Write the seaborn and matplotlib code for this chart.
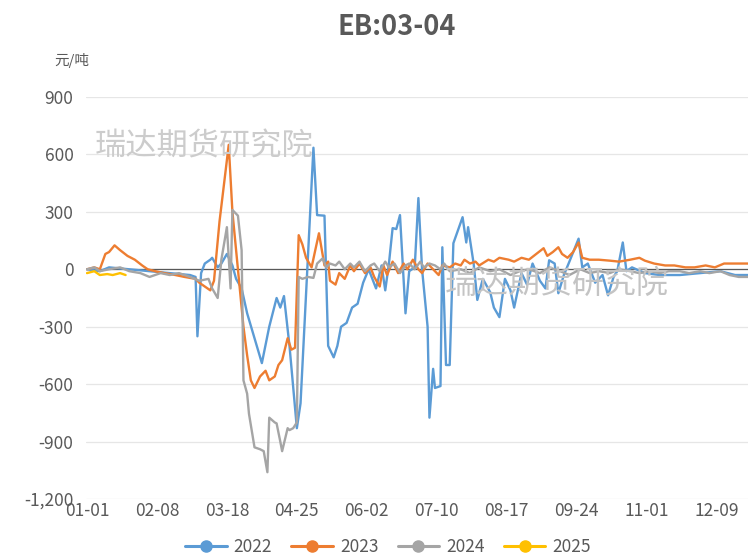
"""EB 03-04 spread, seasonal chart."""

import matplotlib
matplotlib.use("Agg")
import matplotlib.pyplot as plt
from matplotlib.lines import Line2D
from matplotlib.ticker import FuncFormatter
import seaborn as sns
import pandas as pd

# day offsets from 01-01 and spread values (yuan/ton)
days_2022 = [0, 7, 12, 23, 34, 45, 56, 59, 60, 62, 64, 67, 68, 71, 73, 76, 79, 81, 84, 87,
             95, 99, 103, 105, 107, 110, 114, 116, 123, 125, 129, 131, 134, 136, 138, 141,
             144, 147, 150, 153, 155, 157, 160, 162, 164, 166, 168, 170, 173, 175, 178, 180,
             182, 185, 186, 188, 189, 192, 193, 195, 197, 199, 204, 206, 207, 210, 212, 215,
             219, 221, 224, 227, 230, 232, 236, 239, 242, 246, 249, 251, 254, 256, 259, 262,
             267, 269, 272, 276, 280, 283, 286, 288, 291, 293, 296, 303, 311, 322, 333, 344,
             352, 359]
vals_2022 = [0, -10, 10, 0, -10, -20, -30, -40, -350, -20, 30, 50, 60, 10, 30, 80, 20, -50,
             -100, -230, -490, -300, -150, -200, -140, -400, -830, -700, 635, 283, 280, -400,
             -460, -400, -300, -280, -200, -180, -70, 0, -50, -100, 20, -110, 30, 215, 210,
             283, -230, -10, 10, 372, 0, -300, -775, -520, -620, -610, 115, -500, -500, 136,
             272, 140, 220, 30, -160, -50, -120, -200, -250, -50, -110, -200, -20, -80, 30,
             -60, -100, 47, 30, -125, -30, 40, 160, 10, 30, -70, -30, -136, -40, -10, 140,
             -10, 10, -20, -30, -30, -20, -10, -30, -30]

days_2023 = [0, 4, 7, 10, 12, 15, 18, 22, 26, 30, 33, 37, 42, 48, 53, 59, 61, 64, 67, 69,
             72, 77, 79, 82, 85, 87, 89, 91, 94, 97, 99, 102, 104, 106, 109, 111, 113, 115,
             117, 119, 122, 124, 126, 129, 131, 132, 135, 137, 140, 143, 145, 148, 151, 154,
             156, 159, 161, 163, 166, 169, 172, 174, 177, 180, 182, 185, 188, 191, 193, 197,
             200, 203, 205, 208, 211, 213, 218, 221, 224, 229, 232, 236, 240, 244, 248, 250,
             253, 256, 258, 261, 264, 267, 269, 273, 278, 284, 289, 295, 300, 303, 308, 314,
             319, 325, 330, 336, 341, 346, 352, 359]
vals_2023 = [0, 10, 0, 80, 90, 125, 100, 70, 50, 20, 0, -10, -20, -30, -40, -50, -70, -90,
             -110, -60, 250, 650, 300, 0, -300, -450, -580, -620, -560, -530, -580, -560,
             -500, -475, -360, -420, -410, 178, 130, 60, 10, 100, 188, 20, 40, -60, -80, -20,
             -50, 20, -10, 30, -20, 10, -40, -90, 20, -30, 40, -20, 30, 0, 50, 0, -20, 30, 0,
             -30, 20, 10, 30, 20, 50, 30, 40, 20, 50, 40, 60, 50, 40, 60, 50, 80, 110, 70,
             90, 115, 80, 60, 90, 140, 60, 50, 50, 45, 40, 50, 60, 45, 30, 20, 20, 10, 10,
             20, 10, 30, 30, 30]

days_2024 = [0, 4, 7, 12, 18, 23, 29, 34, 40, 45, 50, 56, 61, 66, 68, 71, 73, 76, 78, 79,
             82, 84, 85, 87, 88, 91, 94, 96, 98, 99, 102, 103, 105, 106, 109, 110, 112, 114,
             115, 117, 120, 123, 125, 128, 130, 132, 135, 137, 140, 143, 145, 148, 151, 154,
             156, 159, 162, 164, 167, 170, 173, 175, 178, 181, 183, 186, 189, 192, 194, 197,
             203, 208, 213, 219, 224, 230, 235, 240, 246, 251, 257, 262, 268, 273, 278, 284,
             289, 295, 300, 306, 311, 316, 322, 327, 333, 338, 344, 349, 354, 359]
vals_2024 = [0, 10, -10, 0, 10, -10, -20, -40, -20, -30, -20, -40, -60, -50, -100, -150, 50,
             220, -100, 310, 280, 100, -580, -650, -755, -930, -940, -950, -1060, -775, -800,
             -805, -900, -950, -830, -840, -830, -800, -40, -50, -40, -45, 30, 57, 10, 30, 20,
             40, 0, 30, 10, 40, -10, 20, 30, -10, 40, 10, 30, -20, 20, 30, 0, 40, 10, 30, 20,
             0, 30, -10, 0, -20, 10, -10, 0, -30, -10, 0, -20, 10, -10, -30, 0, -20, -10, -20,
             0, -10, -20, -10, -20, -10, -10, -20, -10, -20, -10, -30, -40, -40]

days_2025 = [0, 4, 7, 11, 14, 18, 21]
vals_2025 = [-20, -10, -30, -25, -30, -20, -30]

years = ["2022", "2023", "2024", "2025"]
colors = ["#5B9BD5", "#ED7D31", "#A5A5A5", "#FFC000"]

tick_days = [0, 38, 76, 114, 152, 190, 228, 266, 304, 342]
tick_labels = ["01-01", "02-08", "03-18", "04-25", "06-02",
               "07-10", "08-17", "09-24", "11-01", "12-09"]
y_ticks = [900, 600, 300, 0, -300, -600, -900, -1200]

frames = []
for yr, d, v in zip(years, [days_2022, days_2023, days_2024, days_2025],
                    [vals_2022, vals_2023, vals_2024, vals_2025]):
    frames.append(pd.DataFrame({"day": d, "value": v, "year": yr}))
df = pd.concat(frames, ignore_index=True)

sns.set_theme(style="white")
plt.rcParams["font.family"] = ["Noto Sans CJK SC", "DejaVu Sans"]
plt.rcParams["axes.unicode_minus"] = False

fig = plt.figure(figsize=(7.48, 5.58), dpi=100)
ax = fig.add_axes([0.115, 0.1057, 0.885, 0.7205])

for y in y_ticks:
    ax.axhline(y, color="#e6e6e6", linewidth=0.9, zorder=0)
ax.axhline(0, color="#595959", linewidth=0.9, zorder=1)

# watermarks
fig.text(95 / 748, 1 - 147 / 558, "瑞达期货研究院", fontsize=22.5, color="#cccccc",
         va="center", ha="left", zorder=0)
fig.text(445 / 748, 1 - 284 / 558, "瑞达期货研究院", fontsize=23, color="#c4c4c4",
         va="center", ha="left", zorder=0)

sns.lineplot(data=df, x="day", y="value", hue="year", hue_order=years,
             palette=colors, linewidth=1.7, legend=False, ax=ax, zorder=3)

ax.set_xlim(-0.5, 359)
ax.set_ylim(-1200, 900)
ax.set_xticks(tick_days)
ax.set_xticklabels(tick_labels)
ax.set_yticks(y_ticks)
ax.yaxis.set_major_formatter(FuncFormatter(lambda v, p: f"{v:,.0f}"))
ax.tick_params(axis="both", length=0, labelsize=12.5, colors="#595959")
ax.tick_params(axis="y", pad=9)
ax.tick_params(axis="x", pad=2)
ax.set_xlabel("")
ax.set_ylabel("")
for s in ax.spines.values():
    s.set_visible(False)

fig.text(397 / 748, 1 - 27 / 558, "EB:03-04", fontsize=19.5, fontweight="bold",
         color="#595959", ha="center", va="center")
fig.text(72 / 748, 1 - 60 / 558, "元/吨", fontsize=10.5, color="#595959",
         ha="center", va="center")

handles = [Line2D([0], [0], color=c, linewidth=2.2, marker="o", markersize=8)
           for c in colors]
fig.legend(handles, years, loc="center", bbox_to_anchor=(388 / 748, 1 - 547 / 558),
           ncol=4, frameon=False, fontsize=12.5, handlelength=2.4, columnspacing=1.1,
           handletextpad=0.4, labelcolor="#595959")

fig.savefig("out.png", dpi=100)
plt.close(fig)
